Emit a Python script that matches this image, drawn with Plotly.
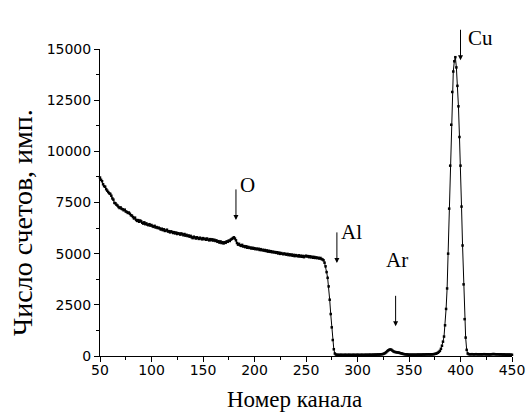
import plotly.graph_objects as go

channels = list(range(50, 451))

counts = [
    8720, 8610, 8540, 8390, 8300, 8270, 8150, 8080, 8010, 7950,
    7920, 7830, 7700, 7640, 7480, 7460, 7390, 7350, 7280, 7230,
    7260, 7190, 7170, 7120, 7150, 7060, 7040, 6990, 7010, 6950,
    6880, 6860, 6790, 6720, 6760, 6650, 6600, 6640, 6560, 6620,
    6580, 6510, 6470, 6530, 6440, 6480, 6420, 6390, 6440, 6370,
    6400, 6340, 6310, 6360, 6280, 6300, 6250, 6270, 6230, 6180,
    6220, 6150, 6190, 6110, 6130, 6170, 6080, 6100, 6040, 6090,
    6060, 6010, 6050, 5990, 6030, 5960, 6000, 5980, 5930, 5990,
    5950, 5900, 5960, 5880, 5920, 5860, 5890, 5830, 5870, 5800,
    5760, 5830, 5790, 5740, 5800, 5760, 5720, 5780, 5740, 5700,
    5760, 5710, 5730, 5680, 5740, 5690, 5650, 5710, 5660, 5700,
    5640, 5680, 5620, 5650, 5580, 5610, 5540, 5600, 5520, 5560,
    5500, 5560, 5530, 5600, 5580, 5640, 5620, 5690, 5720, 5760,
    5800, 5740, 5650, 5520, 5440, 5480, 5410, 5380, 5430, 5350,
    5370, 5320, 5360, 5290, 5330, 5280, 5300, 5250, 5290, 5240,
    5270, 5220, 5250, 5210, 5240, 5180, 5220, 5170, 5190, 5150,
    5180, 5130, 5160, 5100, 5140, 5090, 5120, 5070, 5100, 5060,
    5080, 5040, 5070, 5010, 5050, 4990, 5030, 5000, 4970, 5010,
    4980, 4950, 4990, 4930, 4970, 4920, 4960, 4900, 4940, 4880,
    4930, 4900, 4870, 4920, 4860, 4900, 4850, 4890, 4830, 4870,
    4900, 4860, 4880, 4830, 4870, 4820, 4850, 4800, 4840, 4790,
    4820, 4780, 4800, 4760, 4790, 4740, 4720, 4680, 4560, 4380,
    4100, 3820, 3400, 2750, 2050, 1400, 780, 330, 120, 70,
    55, 60, 50, 55, 60, 50, 55, 50, 60, 55,
    50, 55, 60, 50, 55, 50, 60, 55, 50, 55,
    60, 55, 50, 55, 60, 55, 50, 60, 55, 60,
    55, 60, 65, 55, 60, 65, 60, 70, 65, 70,
    75, 70, 80, 85, 90, 100, 120, 150, 190, 240,
    280, 310, 320, 300, 260, 220, 200, 190, 180, 170,
    165, 150, 135, 120, 105, 95, 85, 80, 75, 70,
    65, 60, 65, 60, 65, 60, 65, 60, 65, 70,
    65, 70, 65, 70, 75, 70, 75, 80, 75, 85,
    75, 80, 80, 85, 90, 100, 110, 130, 160, 200,
    250, 350, 500, 700, 950, 1500, 2300, 3300, 5000, 7200,
    9300, 11300, 12900, 13900, 14400, 14600, 14100, 13200, 12200, 10700,
    9300, 7300, 5400, 3500, 1800, 900, 300, 120, 90, 85,
    85, 90, 85, 80, 85, 90, 85, 80, 85, 80,
    85, 80, 85, 90, 85, 80, 85, 80, 75, 80,
    85, 90, 95, 90, 85, 80, 85, 80, 75, 80,
    75, 70, 75, 70, 65, 70, 65, 70, 65, 60,
    60,
]

peak_labels = ["O", "Al", "Ar", "Cu"]
arrow_x = [182, 280, 337, 400]
arrow_tip_y = [6650, 4550, 1450, 14450]
label_x = [193, 294, 338, 419]
label_y_paper = [0.558, 0.405, 0.267, 1.081]

x_ticks = [50, 100, 150, 200, 250, 300, 350, 400, 450]
y_ticks = [0, 2500, 5000, 7500, 10000, 12500, 15000]

x_title = "Номер канала"
y_title = "Число счетов, имп."

fig = go.Figure()
fig.add_trace(go.Scatter(
    x=channels, y=counts, mode="lines+markers",
    line=dict(color="black", width=1),
    marker=dict(symbol="square", size=2.5, color="black"),
    showlegend=False, cliponaxis=False,
))

for lab, ax_, ty, lx, ly in zip(peak_labels, arrow_x, arrow_tip_y, label_x, label_y_paper):
    fig.add_annotation(x=ax_, y=ty, text="", showarrow=True, arrowhead=2,
                       arrowsize=1, arrowwidth=1, arrowcolor="black",
                       ax=0, ay=-32, xref="x", yref="y")
    fig.add_annotation(x=lx, y=ly, text=lab, showarrow=False,
                       font=dict(family="Liberation Serif", size=21, color="black"),
                       xref="x", yref="paper")

fig.add_annotation(x=0.471, y=-0.143, xref="paper", yref="paper", text=x_title,
                   showarrow=False, xanchor="center", yanchor="middle",
                   font=dict(family="Liberation Serif", size=23, color="black"))
fig.add_annotation(x=-0.187, y=0.4365, xref="paper", yref="paper", text=y_title,
                   showarrow=False, xanchor="center", yanchor="middle", textangle=-90,
                   font=dict(family="Liberation Serif", size=28, color="black"))

fig.update_layout(
    width=526, height=412,
    margin=dict(l=100, r=14, t=49, b=56),
    paper_bgcolor="white", plot_bgcolor="white",
    font=dict(family="DejaVu Sans", size=14, color="black"),
    xaxis=dict(
        range=[50, 450], tickvals=x_ticks, ticktext=[str(v) for v in x_ticks],
        ticks="outside", ticklen=5, automargin=False, ticklabelstandoff=-4,
        tickwidth=1, tickcolor="black", showline=True, linecolor="black",
        linewidth=1, showgrid=False, zeroline=False,
        minor=dict(dtick=25, tick0=50, ticks="outside", ticklen=3, tickcolor="black", showgrid=False),
    ),
    yaxis=dict(
        range=[0, 15000], tickvals=y_ticks, ticktext=[str(v) for v in y_ticks],
        ticks="outside", ticklen=5, automargin=False,
        tickwidth=1, tickcolor="black", showline=True, linecolor="black",
        linewidth=1, showgrid=False, zeroline=False,
        minor=dict(dtick=1250, tick0=0, ticks="outside", ticklen=3, tickcolor="black", showgrid=False),
    ),
)

fig.write_html(
    "out.html",
    config={"displayModeBar": False},
    post_script="document.body.style.margin='0';document.body.style.overflow='hidden';",
)
